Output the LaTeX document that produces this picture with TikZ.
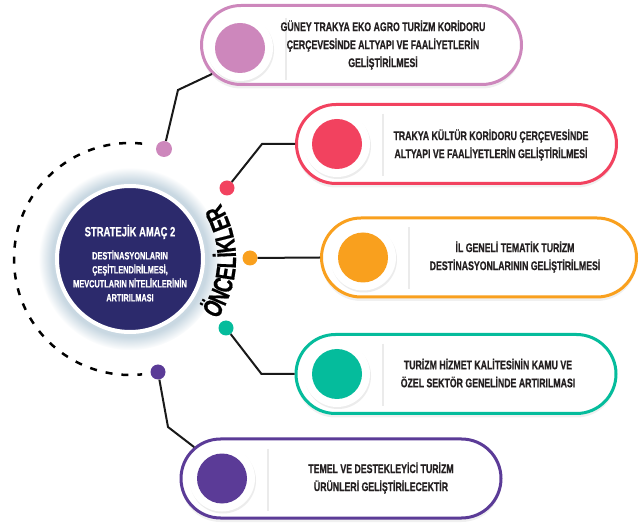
\documentclass[tikz,border=0pt]{standalone}
\usepackage{fontspec}
\usetikzlibrary{calc,shadows,decorations.text}

\newfontfamily\condfont[UprightFont={* Bold}, FakeStretch=0.70, FakeBold=0.6]{Liberation Sans}
\newcommand\boxfont{\condfont\fontsize{12.5}{18}\selectfont}
\newcommand\oncfont{\condfont\fontsize{27}{30}\selectfont}

\definecolor{navyc}{HTML}{2C2A6C}
\definecolor{pinkc}{HTML}{CD87BC}
\definecolor{redc}{HTML}{F2425F}
\definecolor{orangec}{HTML}{F9A01E}
\definecolor{tealc}{HTML}{05BC9C}
\definecolor{purplec}{HTML}{5B3B97}
\definecolor{textc}{HTML}{231F20}
\definecolor{glowc}{HTML}{C9D8E2}

\begin{document}
\begin{tikzpicture}[
    x=1pt, y=1pt,
    pill/.style={draw=#1, line width=3pt, fill=white, rounded corners=39.5pt,
        minimum width=320pt, minimum height=79pt, inner sep=0pt,
        drop shadow={opacity=0.12, shadow xshift=0pt, shadow yshift=-4pt}},
    halo/.style={circle, fill=white, minimum size=66pt, inner sep=0pt,
        drop shadow={opacity=0.15, shadow xshift=1pt, shadow yshift=-2pt}},
    core/.style={circle, fill=#1, minimum size=50pt, inner sep=0pt},
    dot/.style={circle, fill=#1, minimum size=15pt, inner sep=0pt},
    label/.style={font=\boxfont, align=center, text=textc},
    sep/.style={black!8, line width=2pt},
    link/.style={line width=2pt, black!90}
]
\useasboundingbox (0,0) rectangle (640,-526);

% Central goal
\node[circle, fill=navyc, draw=white, line width=4pt, minimum size=146pt,
    inner sep=0pt, circular glow={fill=glowc}] (goal) at (130,-259) {};
\node[font=\condfont\fontsize{13.5}{14}\selectfont, text=white] (title) at (130,-232) {STRATEJİK AMAÇ 2};
\node[font=\condfont\fontsize{10.5}{14}\selectfont, text=white, align=center] (goaltxt) at (130,-276)
    {DESTİNASYONLARIN\\ÇEŞİTLENDİRİLMESİ,\\MEVCUTLARIN NİTELİKLERİNİN\\ARTIRILMASI};

% Dashed arc and curved title
\draw[line width=2.5pt, dash pattern=on 7pt off 9pt]
    ($(goal.center)+(84:116)$) arc[start angle=84, end angle=276, radius=116];
\path[decorate, decoration={text along path, text align=center,
    text={|\oncfont|ÖNCELİKLER}}]
    ($(goal.center)+(-40:106)$) arc[start angle=-40, end angle=37, radius=106];

% Dots on the arc
\node[dot=pinkc, minimum size=16pt] (dot1) at (164,-149) {};
\node[dot=redc] (dot2) at (227,-188) {};
\node[dot=orangec] (dot3) at (250,-258) {};
\node[dot=tealc] (dot4) at (226,-328) {};
\node[dot=purplec] (dot5) at (158,-372) {};

% Priority pills
\node[pill=pinkc] (pill1) at (361.5,-45) {};
\node[pill=redc] (pill2) at (456.5,-144) {};
\node[pill=orangec, minimum width=315pt] (pill3) at (479,-257.5) {};
\node[pill=tealc] (pill4) at (456,-374) {};
\node[pill=purplec] (pill5) at (341,-478.5) {};

% Inner circles
\node[halo] (halo1) at (240,-48) {};
\node[core=pinkc] (core1) at (halo1) {};
\node[halo] (halo2) at (337,-144) {};
\node[core=redc] (core2) at (halo2) {};
\node[halo] (halo3) at (363,-257.5) {};
\node[core=orangec] (core3) at (halo3) {};
\node[halo] (halo4) at (337,-374) {};
\node[core=tealc] (core4) at (halo4) {};
\node[halo] (halo5) at (222,-478.5) {};
\node[core=purplec] (core5) at (halo5) {};

\foreach \i in {1,...,5}
    \draw[sep] ($(halo\i.center)+(46,30)$) -- ($(halo\i.center)+(46,-32)$);

% Texts
\node[label] (txt1) at (383,-45) {GÜNEY TRAKYA EKO AGRO TURİZM KORİDORU\\ÇERÇEVESİNDE ALTYAPI VE FAALİYETLERİN\\GELİŞTİRİLMESİ};
\node[label] (txt2) at (491,-145) {TRAKYA KÜLTÜR KORİDORU ÇERÇEVESİNDE\\ALTYAPI VE FAALİYETLERİN GELİŞTİRİLMESİ};
\node[label] (txt3) at (515,-257) {İL GENELİ TEMATİK TURİZM\\DESTİNASYONLARININ GELİŞTİRİLMESİ};
\node[label] (txt4) at (488,-373) {TURİZM HİZMET KALİTESİNİN KAMU VE\\ÖZEL SEKTÖR GENELİNDE ARTIRILMASI};
\node[label] (txt5) at (381,-478) {TEMEL VE DESTEKLEYİCİ TURİZM\\ÜRÜNLERİ GELİŞTİRİLECEKTİR};

% Connectors
\draw[link] (dot1) -- ($(dot1)+(14,59)$) -- ($(pill1.west)+(41,0)+(225:41)$);
\draw[link] (dot2) -- ($(pill2.west)+(-33,0)$) -- (pill2.west);
\draw[link] (dot3) -- (pill3.west);
\draw[link] (dot4) -- ($(pill4.west)+(-33,0)$) -- (pill4.west);
\draw[link] (dot5) -- ($(dot5)+(10,-55)$) -- ($(pill5.west)+(41,0)+(130:41)$);

\end{tikzpicture}
\end{document}
